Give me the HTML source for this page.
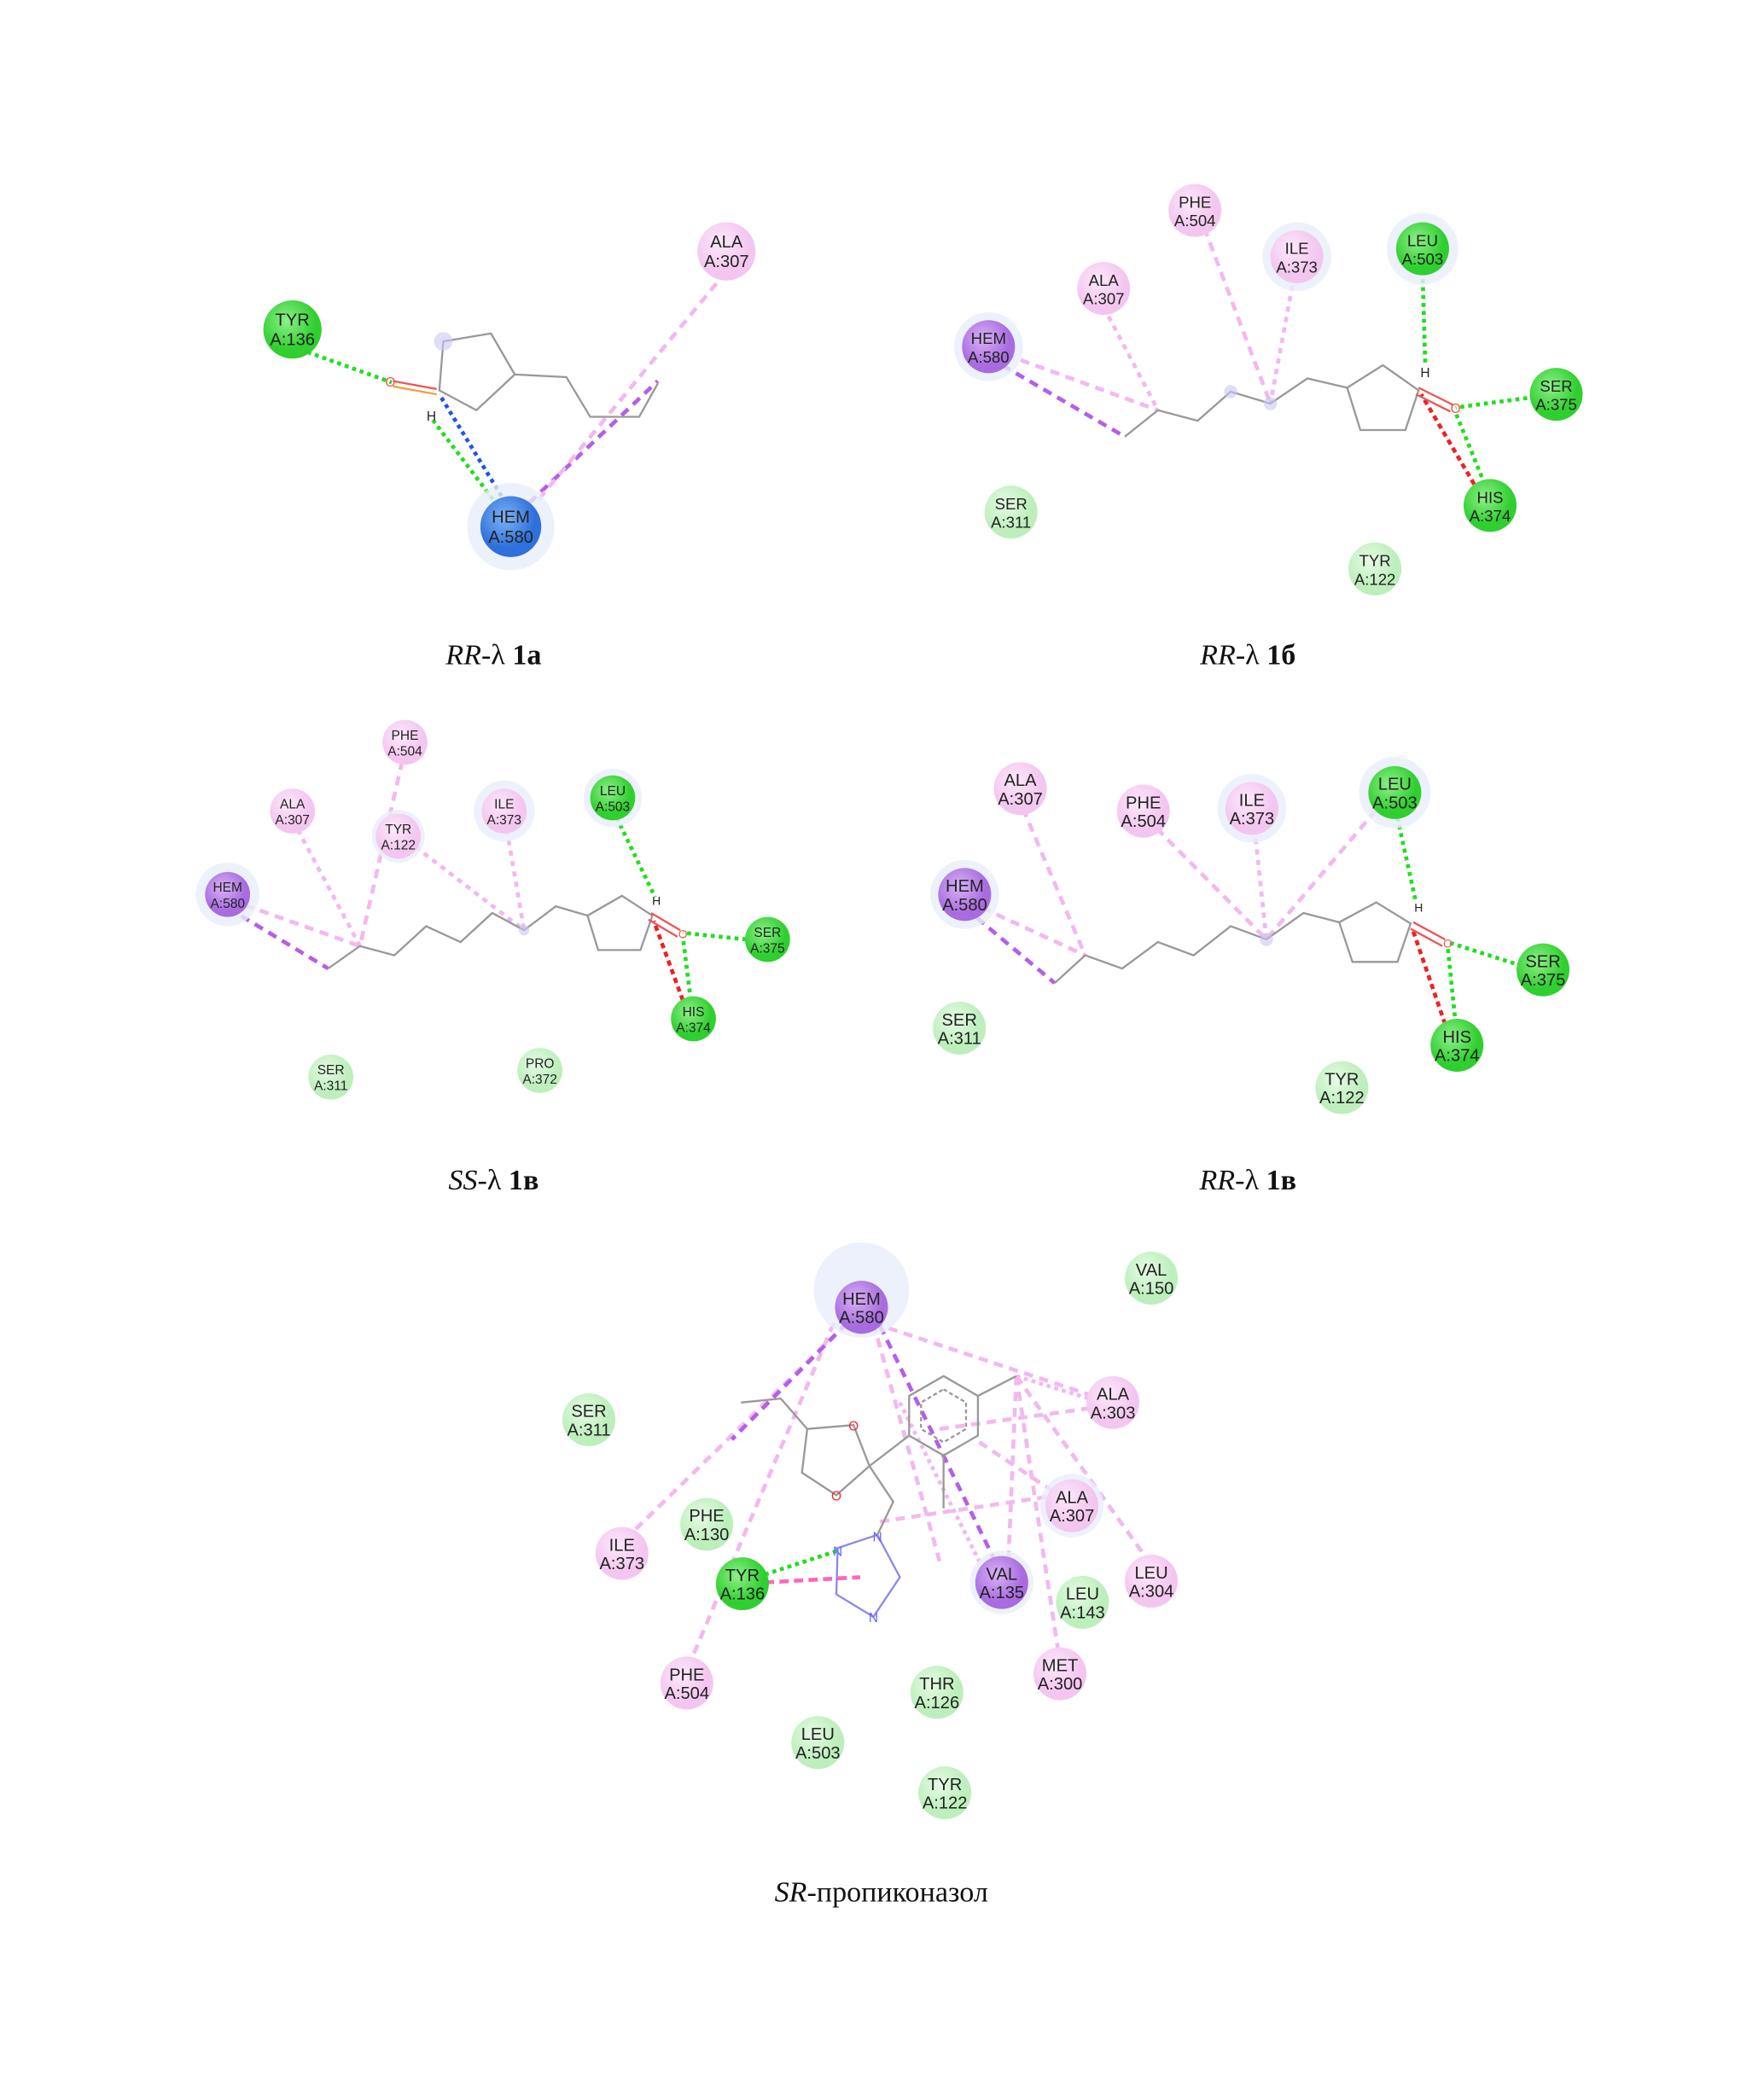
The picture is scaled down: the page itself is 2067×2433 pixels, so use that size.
<!DOCTYPE html>
<html><head><meta charset="utf-8"><style>
html,body{margin:0;padding:0;background:#fff;}
svg{display:block;}
.l{font-family:"Liberation Sans",sans-serif;fill:#222;text-anchor:middle;}
.c{font-family:"Liberation Serif",serif;font-size:22px;fill:#111;text-anchor:middle;}
</style></head><body>
<svg width="2067" height="2433" viewBox="0 0 1333 1569" xmlns="http://www.w3.org/2000/svg">
<defs>
<radialGradient id="gG" cx="40%" cy="35%"><stop offset="0" stop-color="#8ff08a"/><stop offset="1" stop-color="#2fcf2f"/></radialGradient>
<radialGradient id="gL" cx="40%" cy="35%"><stop offset="0" stop-color="#e6fbe4"/><stop offset="1" stop-color="#bdeebc"/></radialGradient>
<radialGradient id="gP" cx="40%" cy="35%"><stop offset="0" stop-color="#fde8fb"/><stop offset="1" stop-color="#f3c6ef"/></radialGradient>
<radialGradient id="gV" cx="40%" cy="35%"><stop offset="0" stop-color="#d8b3f5"/><stop offset="1" stop-color="#a96be0"/></radialGradient>
<radialGradient id="gB" cx="40%" cy="35%"><stop offset="0" stop-color="#7fb3f5"/><stop offset="1" stop-color="#2e70dc"/></radialGradient>
</defs>
<g fill="none" stroke-linecap="butt">
<!-- ============ Panel 1a ============ -->
<g stroke-width="3">
<line x1="221" y1="262" x2="296" y2="289" stroke="#22dd22" stroke-dasharray="3,3"/>
<line x1="376" y1="382" x2="326" y2="316" stroke="#22dd22" stroke-dasharray="3,3"/>
<line x1="382" y1="380" x2="332" y2="298" stroke="#2255dd" stroke-dasharray="3,3"/>
<line x1="400" y1="380" x2="497" y2="288" stroke="#b55ee8" stroke-dasharray="7,5"/>
<line x1="549" y1="205" x2="405" y2="380" stroke="#f2b8ef" stroke-dasharray="7,5"/>
</g>
<g stroke="#999" stroke-width="1.5">
<polygon points="335,258 371,252 389,283 360,310 332,295"/>
<polyline points="389,283 428,285 446,315 483,315 497,290"/>
</g>
<line x1="297" y1="288" x2="330" y2="294" stroke="#e55" stroke-width="1.5"/>
<line x1="297" y1="292" x2="330" y2="298" stroke="#f0a040" stroke-width="1.5"/>
<circle cx="335" cy="258" r="7" fill="#c8c8f0" opacity=".6"/>
<!-- ============ Panel 1b ============ -->
<g stroke-width="3">
<line x1="747" y1="270" x2="850" y2="330" stroke="#b55ee8" stroke-dasharray="7,5"/>
<line x1="760" y1="268" x2="875" y2="310" stroke="#f2b8ef" stroke-dasharray="7,5"/>
<line x1="834" y1="232" x2="875" y2="310" stroke="#f2b8ef" stroke-dasharray="4,4"/>
<line x1="910" y1="172" x2="960" y2="305" stroke="#f2b8ef" stroke-dasharray="7,5"/>
<line x1="978" y1="208" x2="960" y2="305" stroke="#f2b8ef" stroke-dasharray="4,4"/>
<line x1="1075" y1="205" x2="1077" y2="276" stroke="#22dd22" stroke-dasharray="3,3"/>
<line x1="1160" y1="300" x2="1100" y2="308" stroke="#22dd22" stroke-dasharray="3,3"/>
<line x1="1122" y1="366" x2="1100" y2="312" stroke="#22dd22" stroke-dasharray="3,3"/>
<line x1="1114" y1="366" x2="1074" y2="298" stroke="#ee2222" stroke-dasharray="4,3"/>
</g>
<g stroke="#999" stroke-width="1.5">
<polyline points="850,330 875,310 905,318 930,296 960,305 988,286 1018,293"/>
<polygon points="1018,293 1045,276 1072,295 1062,325 1028,325"/>
</g>
<line x1="1072" y1="293" x2="1098" y2="306" stroke="#e55" stroke-width="1.5"/>
<line x1="1070" y1="298" x2="1096" y2="311" stroke="#e55" stroke-width="1.5"/>
<circle cx="930" cy="296" r="5" fill="#c8c8f0" opacity=".6"/>
<circle cx="960" cy="305" r="5" fill="#c8c8f0" opacity=".6"/>
<!-- ============ Panel SS 1v ============ -->
<g stroke-width="3">
<line x1="172" y1="686" x2="248" y2="732" stroke="#b55ee8" stroke-dasharray="7,5"/>
<line x1="185" y1="684" x2="272" y2="715" stroke="#f2b8ef" stroke-dasharray="7,5"/>
<line x1="225" y1="627" x2="272" y2="715" stroke="#f2b8ef" stroke-dasharray="4,4"/>
<line x1="304" y1="575" x2="272" y2="715" stroke="#f2b8ef" stroke-dasharray="7,5"/>
<line x1="314" y1="640" x2="396" y2="703" stroke="#f2b8ef" stroke-dasharray="4,4"/>
<line x1="383" y1="627" x2="396" y2="703" stroke="#f2b8ef" stroke-dasharray="4,4"/>
<line x1="466" y1="618" x2="495" y2="678" stroke="#22dd22" stroke-dasharray="3,3"/>
<line x1="564" y1="710" x2="516" y2="705" stroke="#22dd22" stroke-dasharray="3,3"/>
<line x1="522" y1="756" x2="516" y2="708" stroke="#22dd22" stroke-dasharray="3,3"/>
<line x1="516" y1="756" x2="494" y2="696" stroke="#ee2222" stroke-dasharray="4,3"/>
</g>
<g stroke="#999" stroke-width="1.5">
<polyline points="248,732 272,715 298,722 322,700 348,712 372,690 396,703 420,685 444,692"/>
<polygon points="444,692 470,677 493,692 484,718 452,718"/>
</g>
<line x1="492" y1="690" x2="514" y2="703" stroke="#e55" stroke-width="1.5"/>
<line x1="490" y1="695" x2="512" y2="708" stroke="#e55" stroke-width="1.5"/>
<circle cx="396" cy="703" r="4" fill="#c8c8f0" opacity=".6"/>
<!-- ============ Panel RR 1v ============ -->
<g stroke-width="3">
<line x1="729" y1="686" x2="797" y2="743" stroke="#b55ee8" stroke-dasharray="7,5"/>
<line x1="742" y1="686" x2="820" y2="722" stroke="#f2b8ef" stroke-dasharray="7,5"/>
<line x1="773" y1="611" x2="820" y2="722" stroke="#f2b8ef" stroke-dasharray="7,5"/>
<line x1="874" y1="626" x2="957" y2="710" stroke="#f2b8ef" stroke-dasharray="7,5"/>
<line x1="948" y1="626" x2="957" y2="710" stroke="#f2b8ef" stroke-dasharray="4,4"/>
<line x1="1040" y1="612" x2="957" y2="710" stroke="#f2b8ef" stroke-dasharray="7,5"/>
<line x1="1056" y1="618" x2="1070" y2="682" stroke="#22dd22" stroke-dasharray="3,3"/>
<line x1="1150" y1="730" x2="1094" y2="712" stroke="#22dd22" stroke-dasharray="3,3"/>
<line x1="1100" y1="774" x2="1094" y2="716" stroke="#22dd22" stroke-dasharray="3,3"/>
<line x1="1092" y1="774" x2="1068" y2="704" stroke="#ee2222" stroke-dasharray="4,3"/>
</g>
<g stroke="#999" stroke-width="1.5">
<polyline points="797,743 820,722 848,732 875,712 902,722 930,700 957,710 985,690 1012,697"/>
<polygon points="1012,697 1040,682 1066,698 1056,727 1022,727"/>
</g>
<line x1="1068" y1="697" x2="1092" y2="710" stroke="#e55" stroke-width="1.5"/>
<line x1="1066" y1="702" x2="1090" y2="715" stroke="#e55" stroke-width="1.5"/>
<circle cx="957" cy="710" r="5" fill="#c8c8f0" opacity=".6"/>
<!-- ============ Propiconazole ============ -->
<g stroke-width="3">
<line x1="660" y1="1000" x2="841" y2="1060" stroke="#f2b8ef" stroke-dasharray="7,5"/>
<line x1="660" y1="1000" x2="710" y2="1180" stroke="#f2b8ef" stroke-dasharray="7,5"/>
<line x1="640" y1="1000" x2="476" y2="1160" stroke="#f2b8ef" stroke-dasharray="7,5"/>
<line x1="630" y1="1000" x2="520" y2="1260" stroke="#f2b8ef" stroke-dasharray="7,5"/>
<line x1="768" y1="1040" x2="826" y2="1058" stroke="#f2b8ef" stroke-dasharray="3,3"/>
<line x1="768" y1="1040" x2="762" y2="1180" stroke="#f2b8ef" stroke-dasharray="7,5"/>
<line x1="768" y1="1040" x2="800" y2="1250" stroke="#f2b8ef" stroke-dasharray="7,5"/>
<line x1="768" y1="1040" x2="868" y2="1180" stroke="#f2b8ef" stroke-dasharray="7,5"/>
<line x1="710" y1="1080" x2="826" y2="1064" stroke="#f2b8ef" stroke-dasharray="7,5"/>
<line x1="740" y1="1090" x2="800" y2="1130" stroke="#f2b8ef" stroke-dasharray="7,5"/>
<line x1="665" y1="1150" x2="800" y2="1130" stroke="#f2b8ef" stroke-dasharray="7,5"/>
<line x1="680" y1="1060" x2="745" y2="1190" stroke="#f2b8ef" stroke-dasharray="3,3"/>
<line x1="640" y1="1000" x2="553" y2="1088" stroke="#b55ee8" stroke-dasharray="7,5"/>
<line x1="665" y1="1002" x2="752" y2="1180" stroke="#b55ee8" stroke-dasharray="7,5"/>
<line x1="578" y1="1190" x2="633" y2="1172" stroke="#22dd22" stroke-dasharray="3,3"/>
<line x1="578" y1="1196" x2="650" y2="1192" stroke="#ff66bb" stroke-dasharray="7,4"/>
</g>
<g stroke="#999" stroke-width="1.5">
<polyline points="560,1060 590,1057 610,1080"/>
<polyline points="610,1080 645,1077 657,1108 632,1130 606,1113 610,1080"/>
<polygon points="713,1040 739,1055 739,1085 713,1100 687,1085 687,1055"/>
<polygon points="713,1050 730,1060 730,1080 713,1090 696,1080 696,1060" stroke-dasharray="3,2"/>
<line x1="657" y1="1108" x2="687" y2="1085"/>
<line x1="739" y1="1055" x2="768" y2="1040"/>
<line x1="713" y1="1100" x2="713" y2="1140"/>
<polyline points="657,1108 675,1135 663,1160"/>
</g>
<g stroke="#8a8ae8" stroke-width="1.5">
<polygon points="663,1160 680,1192 660,1222 632,1205 633,1170"/>
</g>
</g>
<!-- text atoms -->
<g font-family="Liberation Sans,sans-serif" font-size="10" text-anchor="middle">
<text x="295" y="292" fill="#e55">O</text><text x="326" y="318" fill="#222">H</text>
<text x="1077" y="285" fill="#222">H</text><text x="1100" y="312" fill="#e55">O</text>
<text x="496" y="684" fill="#222" font-size="9">H</text><text x="516" y="709" fill="#e55" font-size="9">O</text>
<text x="1072" y="689" fill="#222" font-size="9">H</text><text x="1094" y="716" fill="#e55" font-size="9">O</text>
<text x="645" y="1081" fill="#e33">O</text><text x="632" y="1134" fill="#e33">O</text>
<text x="663" y="1165" fill="#66f">N</text><text x="633" y="1176" fill="#66f">N</text><text x="660" y="1226" fill="#66f">N</text>
</g>
<!-- halos -->
<g fill="#e8eefa" opacity=".8">
<circle cx="386" cy="398" r="33"/><circle cx="747" cy="262" r="26"/><circle cx="980" cy="194" r="26"/><circle cx="1075" cy="188" r="27"/>
<circle cx="172" cy="676" r="24"/><circle cx="381" cy="613" r="23"/><circle cx="463" cy="603" r="22"/><circle cx="301" cy="632" r="20"/>
<circle cx="729" cy="676" r="26"/><circle cx="946" cy="611" r="26"/><circle cx="1054" cy="599" r="27"/>
<circle cx="651" cy="975" r="36"/><circle cx="757" cy="1196" r="24"/><circle cx="810" cy="1138" r="24"/>
</g>
<!-- nodes -->
<g stroke="none">
<circle cx="221" cy="249" r="22" fill="url(#gG)"/>
<circle cx="549" cy="190" r="22" fill="url(#gP)"/>
<circle cx="386" cy="398" r="23" fill="url(#gB)"/>
<circle cx="903" cy="159" r="20" fill="url(#gP)"/>
<circle cx="980" cy="194" r="20" fill="url(#gP)"/>
<circle cx="834" cy="218" r="20" fill="url(#gP)"/>
<circle cx="747" cy="262" r="20" fill="url(#gV)"/>
<circle cx="1075" cy="188" r="20" fill="url(#gG)"/>
<circle cx="1176" cy="298" r="20" fill="url(#gG)"/>
<circle cx="1126" cy="382" r="20" fill="url(#gG)"/>
<circle cx="764" cy="387" r="20" fill="url(#gL)"/>
<circle cx="1039" cy="430" r="20" fill="url(#gL)"/>
<circle cx="306" cy="561" r="17" fill="url(#gP)"/>
<circle cx="221" cy="613" r="17" fill="url(#gP)"/>
<circle cx="301" cy="632" r="17" fill="url(#gP)"/>
<circle cx="381" cy="613" r="17" fill="url(#gP)"/>
<circle cx="463" cy="603" r="17" fill="url(#gG)"/>
<circle cx="172" cy="676" r="17" fill="url(#gV)"/>
<circle cx="580" cy="710" r="17" fill="url(#gG)"/>
<circle cx="524" cy="770" r="17" fill="url(#gG)"/>
<circle cx="250" cy="814" r="17" fill="url(#gL)"/>
<circle cx="408" cy="809" r="17" fill="url(#gL)"/>
<circle cx="771" cy="596" r="20" fill="url(#gP)"/>
<circle cx="864" cy="613" r="20" fill="url(#gP)"/>
<circle cx="946" cy="611" r="20" fill="url(#gP)"/>
<circle cx="1054" cy="599" r="20" fill="url(#gG)"/>
<circle cx="729" cy="676" r="20" fill="url(#gV)"/>
<circle cx="1166" cy="733" r="20" fill="url(#gG)"/>
<circle cx="1101" cy="790" r="20" fill="url(#gG)"/>
<circle cx="725" cy="777" r="20" fill="url(#gL)"/>
<circle cx="1014" cy="822" r="20" fill="url(#gL)"/>
<circle cx="651" cy="988" r="20" fill="url(#gV)"/>
<circle cx="870" cy="966" r="20" fill="url(#gL)"/>
<circle cx="445" cy="1073" r="20" fill="url(#gL)"/>
<circle cx="841" cy="1060" r="20" fill="url(#gP)"/>
<circle cx="810" cy="1138" r="20" fill="url(#gP)"/>
<circle cx="470" cy="1174" r="20" fill="url(#gP)"/>
<circle cx="534" cy="1152" r="20" fill="url(#gL)"/>
<circle cx="561" cy="1197" r="20" fill="url(#gG)"/>
<circle cx="757" cy="1196" r="20" fill="url(#gV)"/>
<circle cx="818" cy="1211" r="20" fill="url(#gL)"/>
<circle cx="870" cy="1195" r="20" fill="url(#gP)"/>
<circle cx="801" cy="1265" r="20" fill="url(#gP)"/>
<circle cx="519" cy="1272" r="20" fill="url(#gP)"/>
<circle cx="708" cy="1279" r="20" fill="url(#gL)"/>
<circle cx="618" cy="1317" r="20" fill="url(#gL)"/>
<circle cx="714" cy="1355" r="20" fill="url(#gL)"/>
</g>
<!-- labels -->
<g class="l" font-size="13">
<text x="221" y="246">TYR</text><text x="221" y="261">A:136</text>
<text x="549" y="187">ALA</text><text x="549" y="202">A:307</text>
<text x="386" y="395">HEM</text><text x="386" y="410">A:580</text>
</g>
<g class="l" font-size="12">
<text x="903" y="157">PHE</text><text x="903" y="171">A:504</text>
<text x="980" y="192">ILE</text><text x="980" y="206">A:373</text>
<text x="834" y="216">ALA</text><text x="834" y="230">A:307</text>
<text x="747" y="260">HEM</text><text x="747" y="274">A:580</text>
<text x="1075" y="186">LEU</text><text x="1075" y="200">A:503</text>
<text x="1176" y="296">SER</text><text x="1176" y="310">A:375</text>
<text x="1126" y="380">HIS</text><text x="1126" y="394">A:374</text>
<text x="764" y="385">SER</text><text x="764" y="399">A:311</text>
<text x="1039" y="428">TYR</text><text x="1039" y="442">A:122</text>
</g>
<g class="l" font-size="10">
<text x="306" y="559">PHE</text><text x="306" y="571">A:504</text>
<text x="221" y="611">ALA</text><text x="221" y="623">A:307</text>
<text x="301" y="630">TYR</text><text x="301" y="642">A:122</text>
<text x="381" y="611">ILE</text><text x="381" y="623">A:373</text>
<text x="463" y="601">LEU</text><text x="463" y="613">A:503</text>
<text x="172" y="674">HEM</text><text x="172" y="686">A:580</text>
<text x="580" y="708">SER</text><text x="580" y="720">A:375</text>
<text x="524" y="768">HIS</text><text x="524" y="780">A:374</text>
<text x="250" y="812">SER</text><text x="250" y="824">A:311</text>
<text x="408" y="807">PRO</text><text x="408" y="819">A:372</text>
</g>
<g class="l" font-size="13">
<text x="771" y="594">ALA</text><text x="771" y="608">A:307</text>
<text x="864" y="611">PHE</text><text x="864" y="625">A:504</text>
<text x="946" y="609">ILE</text><text x="946" y="623">A:373</text>
<text x="1054" y="597">LEU</text><text x="1054" y="611">A:503</text>
<text x="729" y="674">HEM</text><text x="729" y="688">A:580</text>
<text x="1166" y="731">SER</text><text x="1166" y="745">A:375</text>
<text x="1101" y="788">HIS</text><text x="1101" y="802">A:374</text>
<text x="725" y="775">SER</text><text x="725" y="789">A:311</text>
<text x="1014" y="820">TYR</text><text x="1014" y="834">A:122</text>
</g>
<g class="l" font-size="13">
<text x="651" y="986">HEM</text><text x="651" y="1000">A:580</text>
<text x="870" y="964">VAL</text><text x="870" y="978">A:150</text>
<text x="445" y="1071">SER</text><text x="445" y="1085">A:311</text>
<text x="841" y="1058">ALA</text><text x="841" y="1072">A:303</text>
<text x="810" y="1136">ALA</text><text x="810" y="1150">A:307</text>
<text x="470" y="1172">ILE</text><text x="470" y="1186">A:373</text>
<text x="534" y="1150">PHE</text><text x="534" y="1164">A:130</text>
<text x="561" y="1195">TYR</text><text x="561" y="1209">A:136</text>
<text x="757" y="1194">VAL</text><text x="757" y="1208">A:135</text>
<text x="818" y="1209">LEU</text><text x="818" y="1223">A:143</text>
<text x="870" y="1193">LEU</text><text x="870" y="1207">A:304</text>
<text x="801" y="1263">MET</text><text x="801" y="1277">A:300</text>
<text x="519" y="1270">PHE</text><text x="519" y="1284">A:504</text>
<text x="708" y="1277">THR</text><text x="708" y="1291">A:126</text>
<text x="618" y="1315">LEU</text><text x="618" y="1329">A:503</text>
<text x="714" y="1353">TYR</text><text x="714" y="1367">A:122</text>
</g>
<!-- captions -->
<text class="c" x="373" y="502"><tspan font-style="italic">RR</tspan>-λ <tspan font-weight="bold">1a</tspan></text>
<text class="c" x="943" y="502"><tspan font-style="italic">RR</tspan>-λ <tspan font-weight="bold">1б</tspan></text>
<text class="c" x="373" y="899"><tspan font-style="italic">SS</tspan>-λ <tspan font-weight="bold">1в</tspan></text>
<text class="c" x="943" y="899"><tspan font-style="italic">RR</tspan>-λ <tspan font-weight="bold">1в</tspan></text>
<text class="c" x="666" y="1437"><tspan font-style="italic">SR</tspan>-пропиконазол</text>
</svg>
</body></html>
